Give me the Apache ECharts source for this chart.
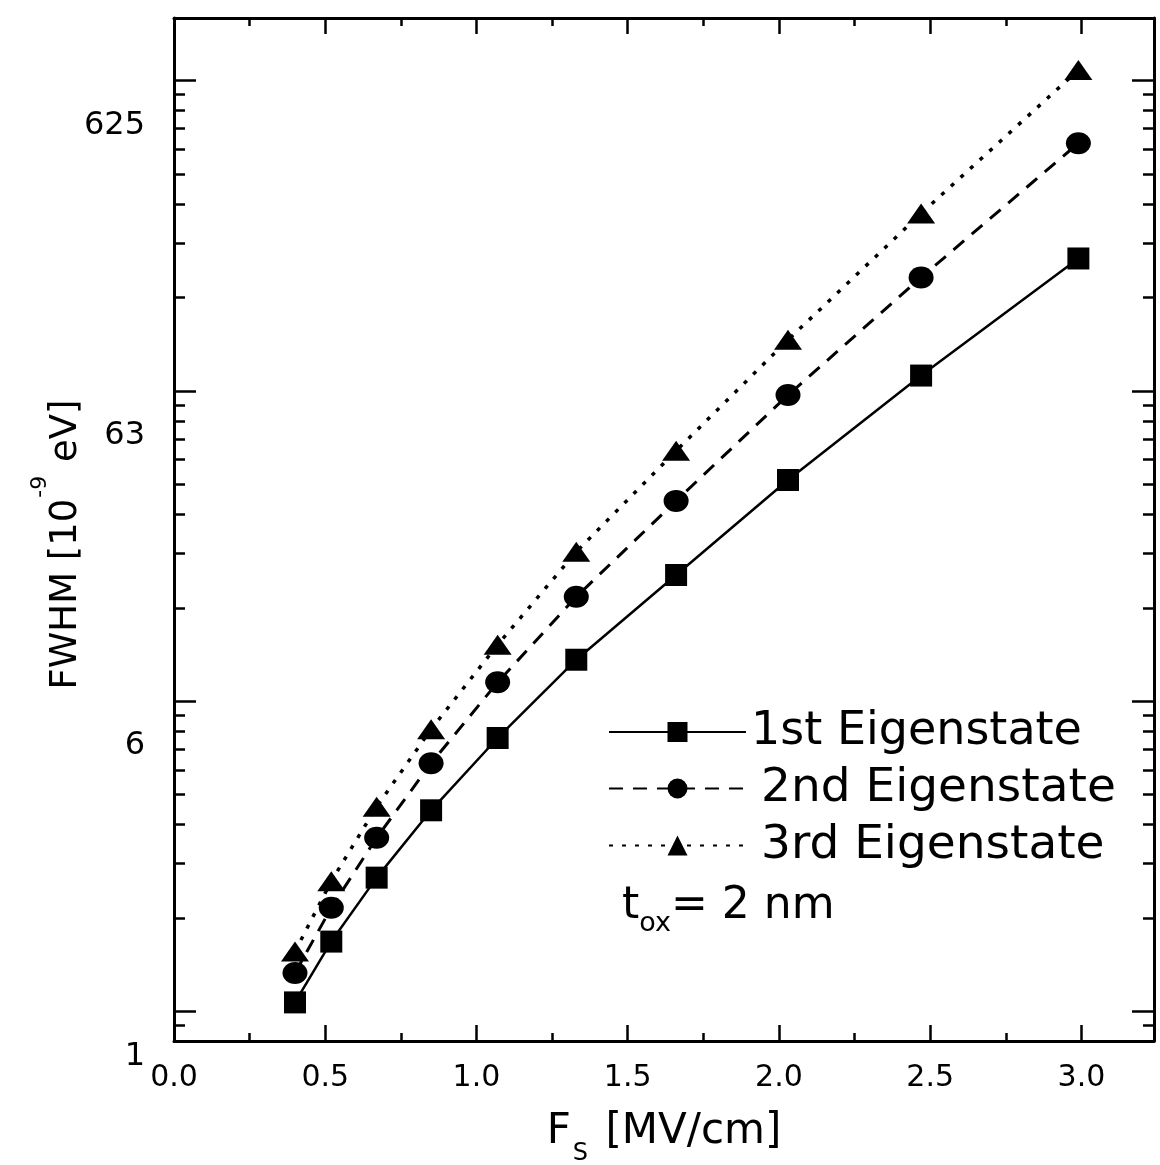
<!DOCTYPE html>
<html><head><meta charset="utf-8">
<script src="https://cdn.jsdelivr.net/npm/echarts@6/dist/echarts.min.js"></script>
<style>html,body{margin:0;padding:0;background:#fff;}#c{width:1160px;height:1165px;}</style>
</head><body><div id="c"></div>
<script>
// ---- data ----
const fieldMVcm = [0.40, 0.52, 0.67, 0.85, 1.07, 1.33, 1.66, 2.03, 2.47, 2.99];
const fwhm1st = [1.07, 1.68, 2.70, 4.45, 7.61, 13.6, 25.5, 51.6, 112, 267];
const fwhm2nd = [1.33, 2.16, 3.63, 6.31, 11.5, 21.7, 44.2, 96.9, 232, 628];
const fwhm3rd = [1.56, 2.63, 4.57, 8.12, 15.2, 30.3, 64.1, 146, 373, 1081];
const seriesNames = ['1st Eigenstate', '2nd Eigenstate', '3rd Eigenstate'];
const yTickValues = [1, 10, 100, 1000];
const yTickLabels = ['1', '6', '63', '625'];
const noteText = ['t', 'ox', '= 2 nm'];

const FONT = "'DejaVu Sans', sans-serif";
const BLACK = '#000';

function pairs(xs, ys) { return xs.map((x, i) => [x, ys[i]]); }
function yLabel(v) {
  for (let i = 0; i < yTickValues.length; i++) {
    if (Math.abs(Math.log10(v) - Math.log10(yTickValues[i])) < 1e-6) return '\n' + yTickLabels[i];
  }
  return '';
}

const axisLineStyle = { show: true, onZero: false, lineStyle: { color: BLACK, width: 3 } };
function xAxisCfg(pos, showLabel) {
  return {
    type: 'value', position: pos, min: 0, max: 3.24, interval: 0.5,
    axisLine: axisLineStyle,
    axisTick: { show: true, inside: true, length: 16, lineStyle: { color: BLACK, width: 2.5 } },
    minorTick: { show: true, splitNumber: 2, length: 8, lineStyle: { color: BLACK, width: 2.5 } },
    splitLine: { show: false }, minorSplitLine: { show: false },
    axisLabel: {
      show: showLabel, margin: 22, color: BLACK, fontFamily: FONT, fontSize: 30,
      showMaxLabel: false, formatter: v => v.toFixed(1)
    }
  };
}
function yAxisCfg(pos, showLabel) {
  return {
    type: 'log', logBase: 10, position: pos, min: 0.8035, max: 1590,
    axisLine: axisLineStyle,
    axisTick: { show: true, inside: true, length: 22, lineStyle: { color: BLACK, width: 2.5 } },
    minorTick: { show: true, splitNumber: 9, length: 11, lineStyle: { color: BLACK, width: 2.5 } },
    splitLine: { show: false }, minorSplitLine: { show: false },
    axisLabel: {
      show: showLabel, margin: 29, color: BLACK, fontFamily: FONT, fontSize: 32,
      lineHeight: 90, verticalAlign: 'middle', formatter: yLabel
    }
  };
}

const xMain = xAxisCfg('bottom', true);
xMain.name = '{a|F}{s|S}{a| [MV/cm]}';
xMain.nameLocation = 'middle';
xMain.nameGap = 70;
xMain.nameMoveOverlap = false;
xMain.nameTextStyle = {
  rich: {
    a: { fontFamily: FONT, fontSize: 42, color: BLACK, lineHeight: 46, verticalAlign: 'top' },
    s: { fontFamily: FONT, fontSize: 24, color: BLACK, lineHeight: 55, verticalAlign: 'bottom', padding: [0, 4, 0, 2] }
  }
};
const yMain = yAxisCfg('left', true);
yMain.name = '{a|FWHM [10}{s|-9}{a| eV]}';
yMain.nameLocation = 'middle';
yMain.nameGap = 89;
yMain.nameMoveOverlap = false;
yMain.nameTextStyle = {
  padding: [0, 30, 0, 0],
  rich: {
    a: { fontFamily: FONT, fontSize: 37, color: BLACK, lineHeight: 40, verticalAlign: 'bottom' },
    s: { fontFamily: FONT, fontSize: 22, color: BLACK, lineHeight: 56, verticalAlign: 'top', padding: [0, 2, 0, 1] }
  }
};

const lineStyles = [
  { color: BLACK, width: 2.5, type: 'solid' },
  { color: BLACK, width: 3, type: [14, 10] },
  { color: BLACK, width: 3.5, type: [4, 9] }
];
const symbols = ['rect', 'circle', 'triangle'];
const symbolSizes = [22, [25, 22], [28, 20]];
const dataSets = [fwhm1st, fwhm2nd, fwhm3rd];

const option = {
  animation: false,
  backgroundColor: '#fff',
  grid: { left: 174, top: 18, width: 980, height: 1023, containLabel: false, outerBoundsMode: 'none' },
  xAxis: [xMain, xAxisCfg('top', false)],
  yAxis: [yMain, yAxisCfg('right', false)],
  title: {
    text: '{t|' + noteText[0] + '}{s|' + noteText[1] + '}{t|' + noteText[2] + '}',
    left: 622, top: 885, padding: 0,
    textStyle: {
      fontWeight: 'normal',
      rich: {
        t: { fontFamily: FONT, fontSize: 44, fontWeight: 'normal', color: BLACK, lineHeight: 46, verticalAlign: 'top' },
        s: { fontFamily: FONT, fontSize: 27, fontWeight: 'normal', color: BLACK, lineHeight: 52, verticalAlign: 'bottom' }
      }
    }
  },
  legend: {
    orient: 'vertical', left: 608, top: 709, padding: 0,
    itemWidth: 137, itemHeight: 25, itemGap: 10,
    textStyle: { fontFamily: FONT, fontSize: 46, color: BLACK, lineHeight: 42 },
    data: seriesNames.map((n, i) => i === 0 ? { name: n } : { name: n, textStyle: { padding: [0, 0, 0, 10], fontSize: 47 } })
  },
  series: seriesNames.map((n, i) => ({
    type: 'line', name: n, xAxisIndex: 0, yAxisIndex: 0,
    data: pairs(fieldMVcm, dataSets[i]),
    symbol: symbols[i], symbolSize: symbolSizes[i], showSymbol: true,
    lineStyle: lineStyles[i], itemStyle: { color: BLACK, borderWidth: 0 },
    emphasis: { disabled: true }
  }))
};

const chart = echarts.init(document.getElementById('c'), null, { renderer: 'canvas' });
chart.setOption(option);
</script></body></html>
